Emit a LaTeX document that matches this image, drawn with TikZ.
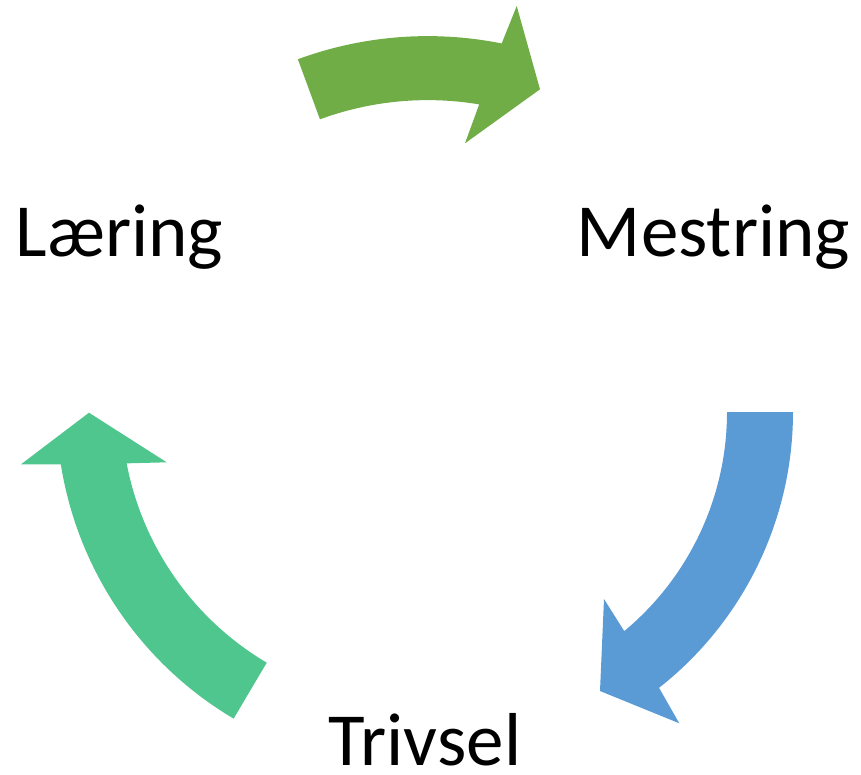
\documentclass[tikz,border=0pt]{standalone}
\usepackage{fontspec}
\setmainfont{Carlito}
\usetikzlibrary{calc}
\definecolor{greenA}{HTML}{70AD47}
\definecolor{blueA}{HTML}{5B9BD5}
\definecolor{tealA}{HTML}{4FC68E}
\begin{document}
\begin{tikzpicture}[x=1pt,y=1pt,yscale=-1,
  lbl/.style={font=\fontsize{75}{88}\selectfont, inner sep=0pt, anchor=base, text=black},
  cyclearrow/.style={draw=none}]
\useasboundingbox (0,0) rectangle (861,774);
\coordinate (cg) at (427.7,412.1);
\coordinate (cb) at (442,412);
\coordinate (ct) at (417.4,407.9);
% top green arrow
\fill[greenA, cyclearrow] ($(cg)+(-110.2:376)$) arc[start angle=-110.2, end angle=-78.65, radius=376]
  -- (516.7,6) -- (540,89.3) -- (465,143.3)
  -- ($(cg)+(-80.5:312)$) arc[start angle=-80.5, end angle=-110.2, radius=312] -- cycle;
% right blue arrow
\fill[blueA, cyclearrow] ($(cb)+(0:351)$) arc[start angle=0, end angle=51.8, radius=351]
  -- (679.3,723.3) -- (600,691) -- (604,599)
  -- ($(cb)+(50.25:285)$) arc[start angle=50.25, end angle=0, radius=285] -- cycle;
% left teal arrow
\fill[tealA, cyclearrow] ($(ct)+(120.6:361)$) arc[start angle=120.6, end angle=171.0, radius=361]
  -- (21,464.3) -- (89,412.7) -- (166.7,462.3)
  -- ($(ct)+(169.2:296)$) arc[start angle=169.2, end angle=120.6, radius=296] -- cycle;
\node[lbl] (laering) at (119.5,256) {Læring};
\node[lbl] (mestring) at (713.5,256) {Mestring};
\node[lbl] (trivsel) at (425,765) {Trivsel};
\end{tikzpicture}
\end{document}
